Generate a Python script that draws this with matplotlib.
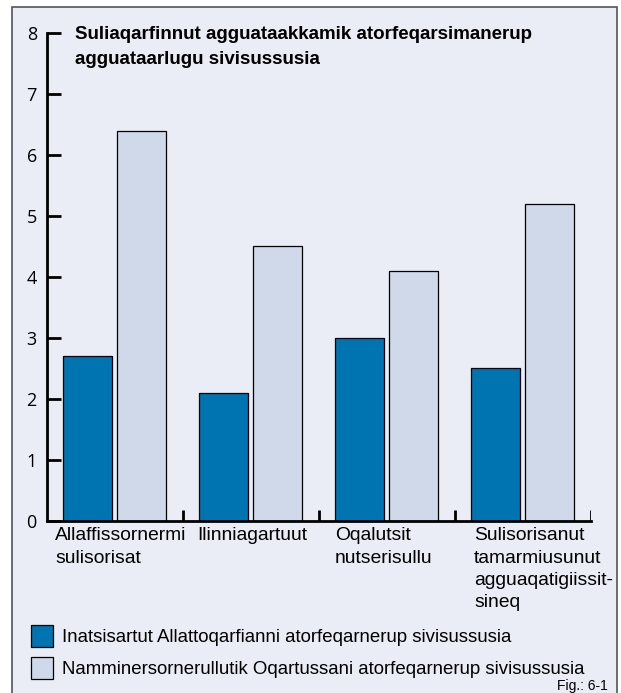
import matplotlib
matplotlib.use("Agg")
import matplotlib.pyplot as plt
import numpy as np
from matplotlib.patches import Rectangle

plt.rcParams["font.family"] = ["Liberation Sans", "DejaVu Sans"]

# data
categories = [
    "Allaffissornermi\nsulisorisat",
    "Ilinniagartuut",
    "Oqalutsit\nnutserisullu",
    "Sulisorisanut\ntamarmiusunut\nagguaqatigiissit-\nsineq",
]
series_names = [
    "Inatsisartut Allattoqarfianni atorfeqarnerup sivisussusia",
    "Namminersornerullutik Oqartussani atorfeqarnerup sivisussusia",
]
inatsisartut = [2.7, 2.1, 3.0, 2.5]
namminersorneq = [6.4, 4.5, 4.1, 5.2]
y_ticks = [0, 1, 2, 3, 4, 5, 6, 7, 8]
title = "Suliaqarfinnut agguataakkamik atorfeqarsimanerup\nagguataarlugu sivisussusia"

W, H = 621, 693
DARK = "#0073b1"
LIGHT = "#cfd9ea"
BG = "#eaedf5"


def fx(px):
    return px / W


def fy(py):
    return 1 - py / H


fig = plt.figure(figsize=(W / 100, H / 100), dpi=100)
fig.patch.set_facecolor("white")

# panel background with frame
fig.patches.append(Rectangle((fx(12), -0.02), fx(617) - fx(12), fy(7) + 0.02,
                             transform=fig.transFigure, facecolor=BG,
                             edgecolor="#555555", linewidth=1.2, zorder=-10))

ax = fig.add_axes([fx(46.5), fy(520.5), fx(590.5) - fx(46.5), (520.5 - 33) / H])
ax.set_facecolor("none")
ax.set_zorder(1)

x = np.arange(len(categories))
bw = 0.36
off = 0.1985
bars1 = ax.bar(x - off, inatsisartut, bw, color=DARK, edgecolor="black",
               linewidth=0.9, label=series_names[0], zorder=2)
bars2 = ax.bar(x + off, namminersorneq, bw, color=LIGHT, edgecolor="black",
               linewidth=0.9, label=series_names[1], zorder=2)

ax.set_xlim(-0.5, len(categories) - 0.5)
ax.set_ylim(0, 8)
for s in ["top", "right"]:
    ax.spines[s].set_visible(False)
for s in ["left", "bottom"]:
    ax.spines[s].set_linewidth(2)
    ax.spines[s].set_color("black")

ax.set_yticks(y_ticks)
ax.tick_params(axis="y", direction="in", length=10, width=2, labelsize=13,
               pad=7, labelfontfamily="Open Sans")
ax.set_xticks([])

# group separators on the x axis
sep = np.arange(len(categories)) + 0.5
ax.vlines(sep, 0, 0.17, color="black", linewidth=2, zorder=3)

# category labels, left aligned under each group
label_px = [55, 197, 335, 474]
for i, (lab, px) in enumerate(zip(categories, label_px)):
    xd = (px - 114.5) / 136.0
    ax.text(xd, -0.014, lab, transform=ax.get_xaxis_transform(), ha="left",
            va="top", fontsize=13.9, linespacing=1.4)

fig.text(fx(75), fy(26), title, ha="left", va="top", fontsize=13.5,
         fontweight="bold", linespacing=1.6)

fig.legend(handles=[bars1, bars2], loc="upper left",
           bbox_to_anchor=(fx(31), fy(625)), frameon=False, fontsize=13.4,
           borderpad=0, borderaxespad=0, handlelength=1.18, handleheight=1.44,
           labelspacing=0.55, handletextpad=0.48)

fig.text(fx(608), fy(686), "Fig.: 6-1", ha="right", va="center", fontsize=10)

fig.savefig("out.png", dpi=100)
